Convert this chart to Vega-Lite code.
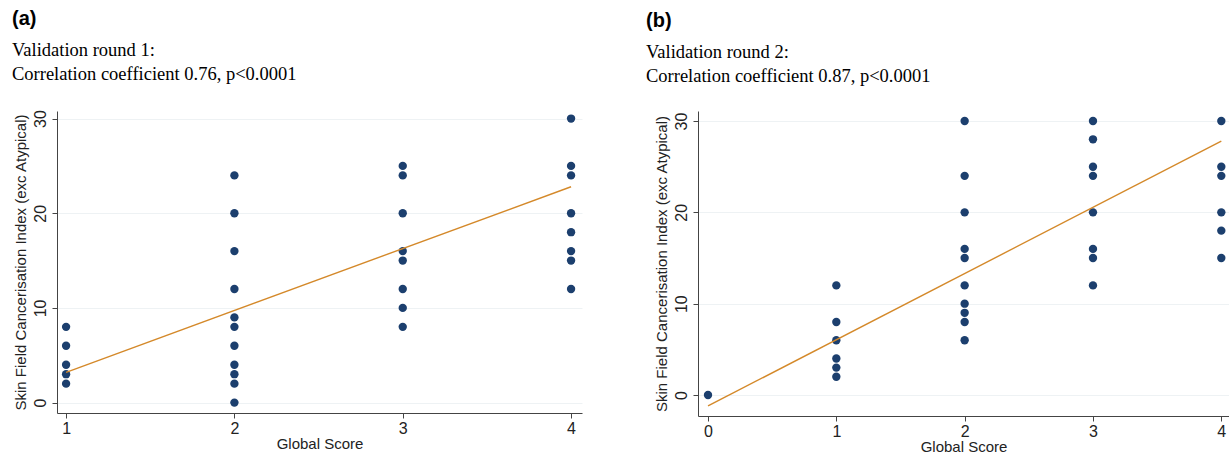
{
  "$schema": "https://vega.github.io/schema/vega-lite/v6.json",
  "background": "white",
  "padding": {"left": 12, "top": 9, "right": 0, "bottom": 0},
  "spacing": 64,
  "config": {
    "view": {"stroke": null, "fill": "white"},
    "axis": {
      "labelFont": "Liberation Sans", "labelFontSize": 16, "labelColor": "#222",
      "titleFont": "Liberation Sans", "titleFontSize": 15, "titleFontWeight": "normal", "titleColor": "#222",
      "domainColor": "#444", "tickColor": "#444", "tickSize": 5,
      "gridColor": "#eef2f4", "gridWidth": 1
    },
    "title": {
      "anchor": "start", "font": "Liberation Sans", "fontSize": 20, "fontWeight": "bold", "color": "black",
      "subtitleFont": "Liberation Serif", "subtitleFontSize": 18.5, "subtitleColor": "black",
      "subtitlePadding": 12, "subtitleLineHeight": 24, "offset": 26
    }
  },
  "datasets": {
    "pointsA": [
      {"score": 1, "index": 8}, {"score": 1, "index": 6}, {"score": 1, "index": 4}, {"score": 1, "index": 3}, {"score": 1, "index": 2},
      {"score": 2, "index": 24}, {"score": 2, "index": 20}, {"score": 2, "index": 16}, {"score": 2, "index": 12}, {"score": 2, "index": 9}, {"score": 2, "index": 8}, {"score": 2, "index": 6}, {"score": 2, "index": 4}, {"score": 2, "index": 3}, {"score": 2, "index": 2}, {"score": 2, "index": 0},
      {"score": 3, "index": 25}, {"score": 3, "index": 24}, {"score": 3, "index": 20}, {"score": 3, "index": 16}, {"score": 3, "index": 15}, {"score": 3, "index": 12}, {"score": 3, "index": 10}, {"score": 3, "index": 8},
      {"score": 4, "index": 30}, {"score": 4, "index": 25}, {"score": 4, "index": 24}, {"score": 4, "index": 20}, {"score": 4, "index": 18}, {"score": 4, "index": 16}, {"score": 4, "index": 15}, {"score": 4, "index": 12}
    ],
    "fitA": [{"score": 1, "index": 3.2}, {"score": 4, "index": 22.8}],
    "pointsB": [
      {"score": 0, "index": 0},
      {"score": 1, "index": 12}, {"score": 1, "index": 8}, {"score": 1, "index": 6}, {"score": 1, "index": 4}, {"score": 1, "index": 3}, {"score": 1, "index": 2},
      {"score": 2, "index": 30}, {"score": 2, "index": 24}, {"score": 2, "index": 20}, {"score": 2, "index": 16}, {"score": 2, "index": 15}, {"score": 2, "index": 12}, {"score": 2, "index": 10}, {"score": 2, "index": 9}, {"score": 2, "index": 8}, {"score": 2, "index": 6},
      {"score": 3, "index": 30}, {"score": 3, "index": 28}, {"score": 3, "index": 25}, {"score": 3, "index": 24}, {"score": 3, "index": 20}, {"score": 3, "index": 16}, {"score": 3, "index": 15}, {"score": 3, "index": 12},
      {"score": 4, "index": 30}, {"score": 4, "index": 25}, {"score": 4, "index": 24}, {"score": 4, "index": 20}, {"score": 4, "index": 18}, {"score": 4, "index": 15}
    ],
    "fitB": [{"score": 0, "index": -1.2}, {"score": 4, "index": 27.8}]
  },
  "hconcat": [
    {
      "width": 525, "height": 302,
      "title": {"text": "(a)", "subtitle": ["Validation round 1:", "Correlation coefficient 0.76, p<0.0001"], "dx": -1},
      "layer": [
        {
          "data": {"name": "pointsA"},
          "mark": {"type": "circle", "size": 70, "opacity": 1, "color": "#1c3f6e"},
          "encoding": {
            "x": {"field": "score", "type": "quantitative", "scale": {"domain": [0.946, 4.065], "nice": false, "zero": false},
                  "axis": {"values": [1, 2, 3, 4], "format": "d", "grid": false, "title": "Global Score", "labelPadding": 2, "titlePadding": 0}},
            "y": {"field": "index", "type": "quantitative", "scale": {"domain": [-1.1, 30.8], "nice": false, "zero": false},
                  "axis": {"values": [0, 10, 20, 30], "format": "d", "grid": true, "labelAngle": -90, "labelAlign": "center", "labelBaseline": "bottom", "labelPadding": 4, "title": "Skin Field Cancerisation Index (exc Atypical)", "titlePadding": 4}}
          }
        },
        {
          "data": {"name": "fitA"},
          "mark": {"type": "line", "color": "#d4892a", "strokeWidth": 1.4},
          "encoding": {
            "x": {"field": "score", "type": "quantitative"},
            "y": {"field": "index", "type": "quantitative"}
          }
        }
      ]
    },
    {
      "width": 531, "height": 305,
      "title": {"text": "(b)", "subtitle": ["Validation round 2:", "Correlation coefficient 0.87, p<0.0001"], "dx": -8},
      "layer": [
        {
          "data": {"name": "pointsB"},
          "mark": {"type": "circle", "size": 70, "opacity": 1, "color": "#1c3f6e"},
          "encoding": {
            "x": {"field": "score", "type": "quantitative", "scale": {"domain": [-0.078, 4.06], "nice": false, "zero": false},
                  "axis": {"values": [0, 1, 2, 3, 4], "format": "d", "grid": false, "title": "Global Score", "labelPadding": 2, "titlePadding": 0}},
            "y": {"field": "index", "type": "quantitative", "scale": {"domain": [-2.3, 31.1], "nice": false, "zero": false},
                  "axis": {"values": [0, 10, 20, 30], "format": "d", "grid": true, "labelAngle": -90, "labelAlign": "center", "labelBaseline": "bottom", "labelPadding": 4, "title": "Skin Field Cancerisation Index (exc Atypical)", "titlePadding": 4}}
          }
        },
        {
          "data": {"name": "fitB"},
          "mark": {"type": "line", "color": "#d4892a", "strokeWidth": 1.4},
          "encoding": {
            "x": {"field": "score", "type": "quantitative"},
            "y": {"field": "index", "type": "quantitative"}
          }
        }
      ]
    }
  ]
}
